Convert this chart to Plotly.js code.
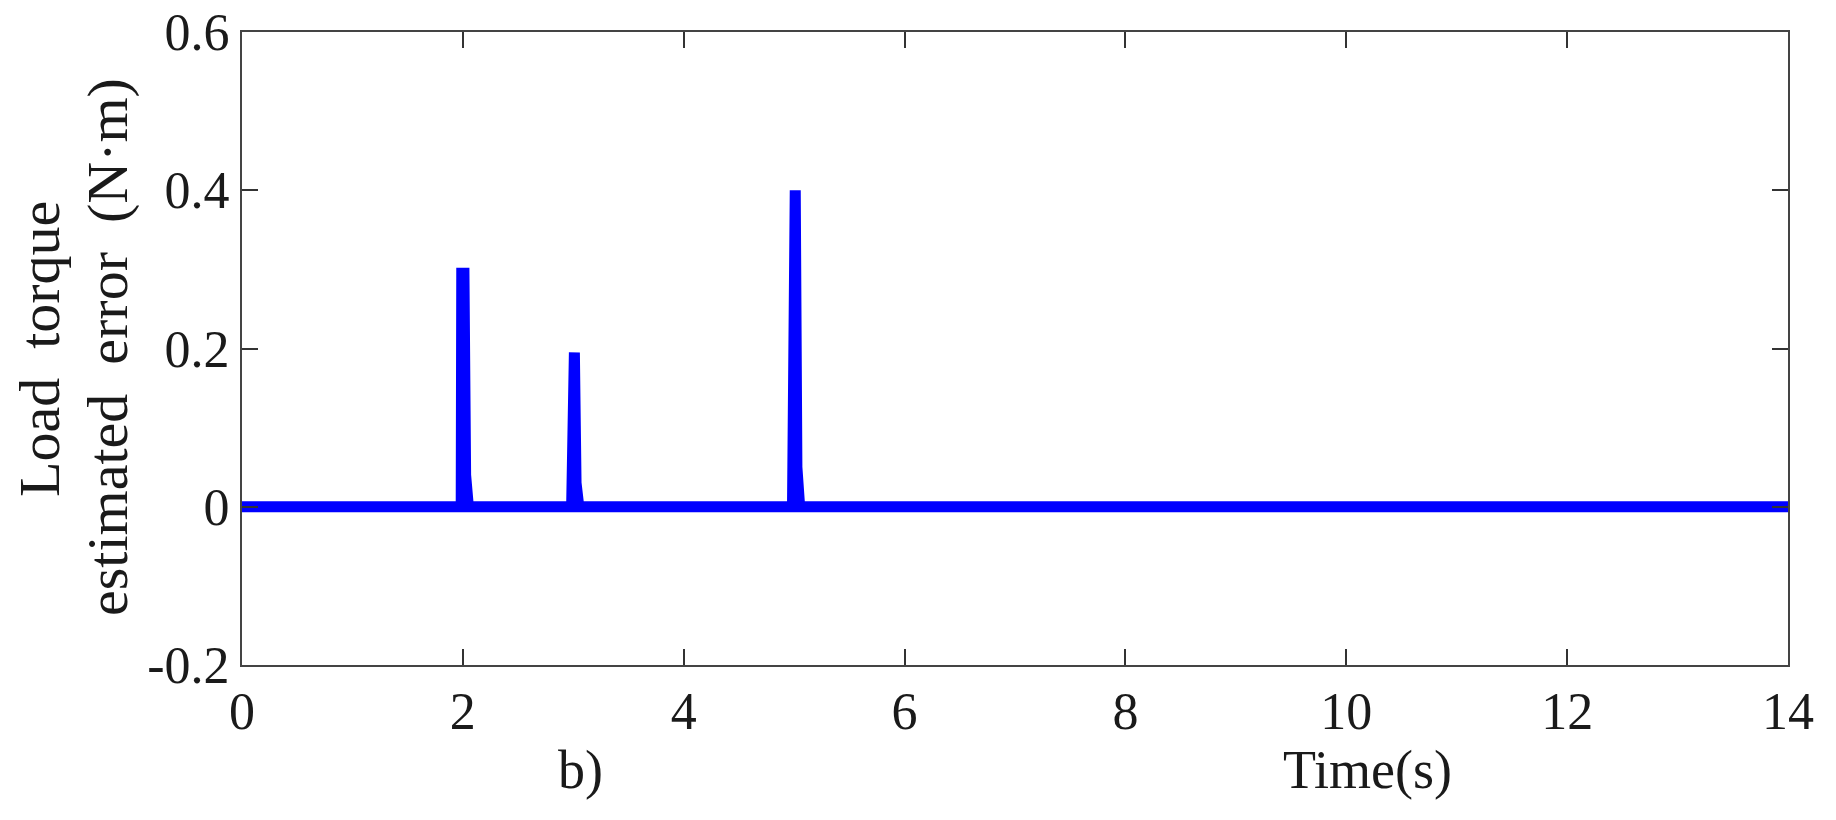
<!DOCTYPE html>
<html>
<head>
<meta charset="utf-8">
<script src="https://cdn.plot.ly/plotly-3.0.1.min.js"></script>
<style>
  html, body { margin: 0; padding: 0; background: #fff; }
  #chart { width: 1836px; height: 820px; }
</style>
</head>
<body>
<div id="chart"></div>
<script>
// Data
const timeS = [0, 1.985, 1.99, 2.01, 2.025, 2.05, 2.985, 2.99, 3.01, 3.025, 3.05, 4.985, 4.99, 5.01, 5.025, 5.05, 14];
const torqueErr = [0, 0, 0.295, 0.295, 0.04, 0, 0, 0.195, 0.195, 0.03, 0, 0, 0.4, 0.4, 0.05, 0, 0];
const xTickVals = [0, 2, 4, 6, 8, 10, 12, 14];
const yTickVals = [-0.2, 0, 0.2, 0.4, 0.6];
const yTickText = ['-0.2', '0', '0.2', '0.4', '0.6'];
const yTitleLines = ['Load  torque', 'estimated  error  (N·m)'];
const xTitle = 'Time(s)';
const panelLabel = 'b)';

// layout geometry (pixels)
const W = 1836, H = 820;
const L = 242, R = 1788, T = 32, B = 665;
const pw = R - L, ph = B - T;
const px = v => (v - L) / pw;
const py = v => (B - v) / ph;

const font = 'Liberation Serif, Times New Roman, serif';
const textColor = '#1a1a1a';

const trace = {
  x: timeS,
  y: torqueErr,
  type: 'scatter',
  mode: 'lines',
  line: { color: '#0000ff', width: 11 },
  hoverinfo: 'skip'
};

const layout = {
  width: W, height: H, autosize: false,
  margin: { l: L, r: W - R, t: T, b: H - B, pad: 0 },
  paper_bgcolor: '#ffffff',
  plot_bgcolor: '#ffffff',
  showlegend: false,
  font: { family: font, color: textColor, size: 52 },
  xaxis: {
    range: [0, 14],
    tickvals: xTickVals,
    ticktext: xTickVals.map(String),
    ticks: 'inside', ticklen: 16, tickwidth: 2, tickcolor: '#333',
    showline: true, linecolor: '#444', linewidth: 2, mirror: 'allticks',
    showgrid: false, zeroline: false,
    tickfont: { family: font, size: 52, color: textColor },
    ticklabelstandoff: 0
  },
  yaxis: {
    range: [-0.2, 0.6],
    tickvals: yTickVals,
    ticktext: yTickText,
    ticks: 'inside', ticklen: 16, tickwidth: 2, tickcolor: '#333',
    showline: true, linecolor: '#444', linewidth: 2, mirror: 'allticks',
    showgrid: false, zeroline: false,
    tickfont: { family: font, size: 52, color: textColor },
    ticklabelstandoff: 0
  },
  annotations: [
    { text: yTitleLines[0], xref: 'paper', yref: 'paper', x: px(39), y: py(349),
      xanchor: 'center', yanchor: 'middle', textangle: -90, showarrow: false,
      font: { family: font, size: 58, color: textColor } },
    { text: yTitleLines[1], xref: 'paper', yref: 'paper', x: px(107), y: py(347),
      xanchor: 'center', yanchor: 'middle', textangle: -90, showarrow: false,
      font: { family: font, size: 58, color: textColor } },
    { text: panelLabel, xref: 'paper', yref: 'paper', x: px(580), y: py(770),
      xanchor: 'center', yanchor: 'middle', showarrow: false,
      font: { family: font, size: 54, color: textColor } },
    { text: xTitle, xref: 'paper', yref: 'paper', x: px(1367), y: py(770),
      xanchor: 'center', yanchor: 'middle', showarrow: false,
      font: { family: font, size: 54, color: textColor } }
  ]
};

Plotly.newPlot('chart', [trace], layout, { staticPlot: true, displayModeBar: false });
</script>
</body>
</html>
